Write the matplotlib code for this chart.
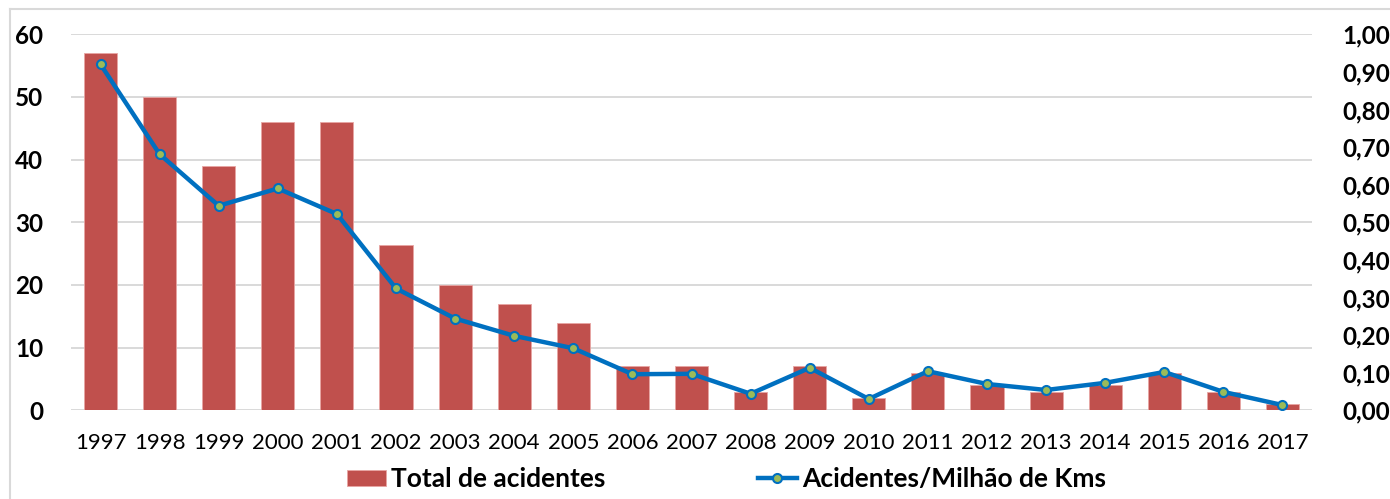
import matplotlib
matplotlib.use("Agg")
import matplotlib.pyplot as plt
from matplotlib.lines import Line2D
from matplotlib.patches import Patch
from matplotlib.ticker import FuncFormatter, MultipleLocator

years = ["1997", "1998", "1999", "2000", "2001", "2002", "2003", "2004", "2005", "2006",
         "2007", "2008", "2009", "2010", "2011", "2012", "2013", "2014", "2015", "2016", "2017"]
total_acidentes = [57, 50, 39, 46, 46, 26.3, 20, 17, 14, 7, 7, 3, 7, 2, 6, 4, 3, 4, 6, 3, 1]
acidentes_milhao_kms = [0.920, 0.681, 0.544, 0.590, 0.522, 0.324, 0.244, 0.198, 0.165, 0.096,
                        0.097, 0.044, 0.113, 0.030, 0.104, 0.070, 0.054, 0.073, 0.102, 0.049, 0.014]

bar_label = "Total de acidentes"
line_label = "Acidentes/Milhão de Kms"

plt.rcParams['font.family'] = ['Lato', 'DejaVu Sans']

fig = plt.figure(figsize=(13.9, 4.99), dpi=100)
W, H = 1390, 499
ax = fig.add_axes([71 / W, 1 - 410.3 / H, (1312 - 71) / W, (410.3 - 34.3) / H])
ax2 = ax.twinx()

bar_color = "#C0504D"
line_color = "#0070C0"
marker_color = "#9BBB59"
grid_color = "#D9D9D9"

x = list(range(len(years)))
ax.bar(x, total_acidentes, width=0.56, color=bar_color, edgecolor="#E8A5A3", linewidth=0.6, zorder=2)
ax.set_xlim(-0.5, len(years) - 0.5)
ax.set_ylim(0, 60)
ax.yaxis.set_major_locator(MultipleLocator(10))
ax.grid(axis='y', color=grid_color, linewidth=1.4, zorder=0)
ax.set_axisbelow(True)
ax.set_xticks(x)
ax.set_xticklabels(years)
ax.tick_params(axis='x', length=0, pad=16, labelsize=16, colors="#000000")
ax.tick_params(axis='y', length=0, pad=20, labelsize=17.5)
for lbl in ax.get_yticklabels():
    lbl.set_fontweight('bold')

ax2.plot(x, acidentes_milhao_kms, color=line_color, linewidth=3.2, marker='o',
         markersize=6.5, markerfacecolor=marker_color, markeredgecolor=line_color,
         markeredgewidth=1.5, zorder=3)
ax2.set_ylim(0, 1.0)
ax2.yaxis.set_major_locator(MultipleLocator(0.1))
ax2.yaxis.set_major_formatter(FuncFormatter(lambda v, p: f"{v:.2f}".replace('.', ',')))
ax2.tick_params(axis='y', length=0, pad=22, labelsize=17.5)
for lbl in ax2.get_yticklabels():
    lbl.set_fontweight('bold')

for a in (ax, ax2):
    for s in a.spines.values():
        s.set_visible(False)

# outer chart border (top and left visible)
fig.add_artist(Line2D([10 / W, 1.0], [1 - 9 / H, 1 - 9 / H], color=grid_color, linewidth=1.5))
fig.add_artist(Line2D([10 / W, 10 / W], [0.0, 1 - 9 / H], color=grid_color, linewidth=1.5))

handles = [Patch(facecolor=bar_color, edgecolor="#E8A5A3", linewidth=0.6),
           Line2D([0], [0], color=line_color, linewidth=3.2, marker='o', markersize=6.5,
                  markerfacecolor=marker_color, markeredgecolor=line_color, markeredgewidth=1.5)]
fig.legend(handles, [bar_label, line_label], loc='center', bbox_to_anchor=(726.5 / W, 1 - 479 / H),
           ncol=2, frameon=False, prop={'weight': 'bold', 'size': 19}, handlelength=1.5,
           handletextpad=0.2, columnspacing=5.75, handleheight=0.57)

fig.savefig("out.png", dpi=100)
